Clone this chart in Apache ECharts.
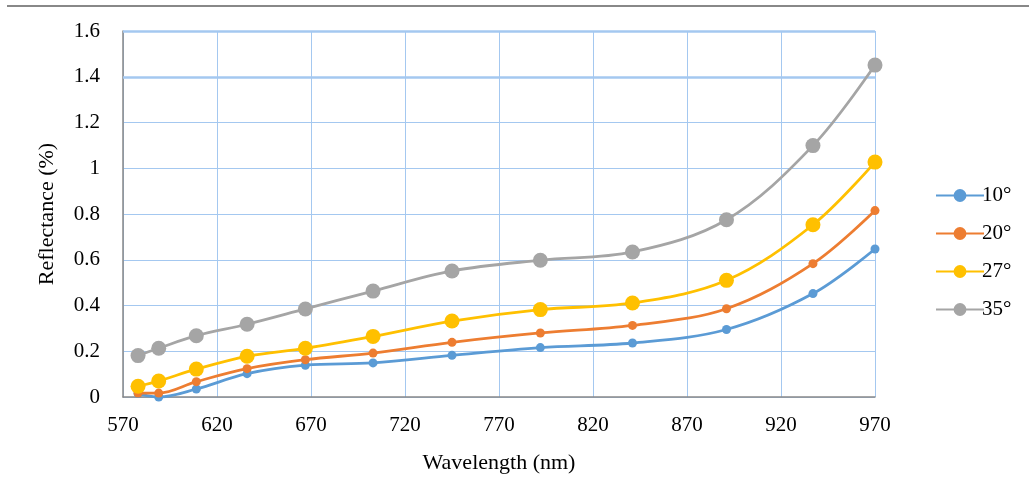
<!DOCTYPE html>
<html>
<head>
<meta charset="utf-8">
<script src="https://cdn.jsdelivr.net/npm/echarts@6/dist/echarts.min.js"></script>
<style>html,body{margin:0;padding:0;background:#fff;}#c{width:1029px;height:502px;}</style>
</head>
<body>
<div id="c"></div>
<script>
const wavelengths = [578, 589, 609, 636, 667, 703, 745, 792, 841, 891, 937, 970];
const r10 = [0.015, 0.0, 0.035, 0.102, 0.139, 0.149, 0.182, 0.216, 0.236, 0.295, 0.452, 0.647];
const r20 = [0.017, 0.017, 0.067, 0.124, 0.163, 0.192, 0.239, 0.280, 0.313, 0.386, 0.583, 0.815];
const r27 = [0.047, 0.070, 0.122, 0.178, 0.213, 0.265, 0.332, 0.382, 0.411, 0.510, 0.753, 1.027];
const r35 = [0.181, 0.213, 0.268, 0.318, 0.385, 0.463, 0.551, 0.598, 0.634, 0.775, 1.099, 1.451];
const seriesNames = ['10°', '20°', '27°', '35°'];
const colors = ['#5B9BD5', '#ED7D31', '#FFC000', '#A5A5A5'];
const symbolSizes = [9, 9, 15, 15];
const allValues = [r10, r20, r27, r35];

const font = 'Liberation Serif, Times New Roman, serif';
const chart = echarts.init(document.getElementById('c'));
const series = allValues.map((vals, i) => ({
  name: seriesNames[i],
  type: 'line',
  smooth: 0.35,
  data: wavelengths.map((w, j) => [w, vals[j]]),
  symbol: 'circle',
  symbolSize: symbolSizes[i],
  itemStyle: { color: colors[i] },
  lineStyle: { color: colors[i], width: 2.8 },
  z: 3 + i,
  markLine: i === 0 ? {
    silent: true, symbol: 'none', label: { show: false },
    lineStyle: { color: '#A4C8F0', width: 2.5, type: 'solid' },
    data: [{ yAxis: 1.4 }, { yAxis: 1.6 }], z: 1
  } : undefined
}));
chart.setOption({
  animation: false,
  backgroundColor: '#fff',
  grid: { left: 123, right: 154, top: 31, bottom: 105 },
  legend: {
    orient: 'vertical', left: 930, top: 180,
    itemWidth: 48, itemHeight: 16, itemGap: 17,
    textStyle: { fontFamily: font, fontSize: 21, color: '#000', padding: [0,0,0,-7] },
    data: seriesNames
  },
  xAxis: {
    type: 'value', min: 570, max: 970, interval: 50,
    name: 'Wavelength (nm)', nameLocation: 'middle', nameGap: 55,
    nameTextStyle: { fontFamily: font, fontSize: 22, color: '#000' },
    axisLine: { show: true, lineStyle: { color: '#898989', width: 1.5 } },
    axisTick: { show: false },
    axisLabel: { fontFamily: font, fontSize: 21, color: '#000', margin: 18 },
    splitLine: { show: true, lineStyle: { color: '#A4C8F0', width: 1 } }
  },
  yAxis: {
    type: 'value', min: 0, max: 1.6, interval: 0.2,
    name: 'Reflectance (%)', nameLocation: 'middle', nameGap: 65,
    nameTextStyle: { fontFamily: font, fontSize: 22, color: '#000' },
    axisLine: { show: true, lineStyle: { color: '#898989', width: 1.5 } },
    axisTick: { show: false },
    axisLabel: { fontFamily: font, fontSize: 21, color: '#000', margin: 23 },
    splitLine: { show: true, lineStyle: { color: '#A4C8F0', width: 1 } }
  },
  graphic: [{
    type: 'line', shape: { x1: 7, y1: 6, x2: 1029, y2: 6 },
    style: { stroke: '#888', lineWidth: 2 }
  }],
  series: series
});
</script>
</body>
</html>
